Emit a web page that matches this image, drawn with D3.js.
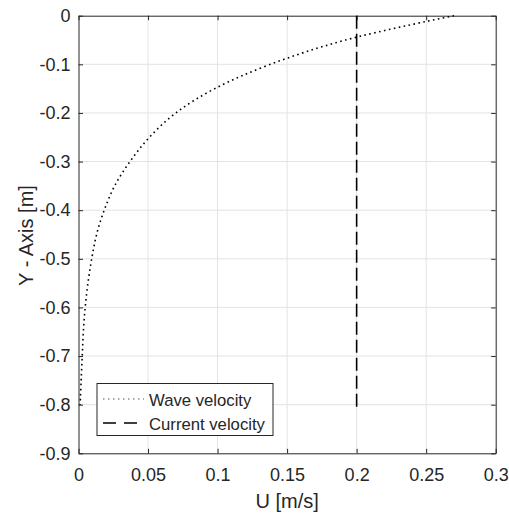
<!DOCTYPE html>
<html>
<head>
<meta charset="utf-8">
<script src="https://cdn.jsdelivr.net/npm/d3@7"></script>
<style>
  body { margin: 0; background: #fff; }
  svg text { font-family: "Liberation Sans", Arial, sans-serif; fill: #262626; }
</style>
</head>
<body>
<div class="canvas"></div>
<script>
// depth below surface [m] and wave velocity [m/s]
const depth = [0, -0.05, -0.1, -0.15, -0.2, -0.25, -0.3, -0.35, -0.4, -0.45, -0.5, -0.55, -0.6, -0.65, -0.7, -0.75, -0.8];
const waveU = [0.270, 0.192, 0.138, 0.098, 0.070, 0.051, 0.037, 0.026, 0.0185, 0.013, 0.0095, 0.0068, 0.0048, 0.0035, 0.0027, 0.0019, 0.0012];

// current velocity is constant over the depth
const currentDepth = [0, -0.81];
const currentU = [0.2, 0.2];

const xTicks = [0, 0.05, 0.1, 0.15, 0.2, 0.25, 0.3];
const xTickLabels = ['0', '0.05', '0.1', '0.15', '0.2', '0.25', '0.3'];
const yTicks = [0, -0.1, -0.2, -0.3, -0.4, -0.5, -0.6, -0.7, -0.8, -0.9];
const yTickLabels = ['0', '-0.1', '-0.2', '-0.3', '-0.4', '-0.5', '-0.6', '-0.7', '-0.8', '-0.9'];

const seriesNames = ['Wave velocity', 'Current velocity'];

const dims = {width: 509, height: 517};
const plot = {left: 78.5, right: 495.7, top: 15.7, bottom: 453.3};
const axisColor = '#262626';

const svg = d3.select('.canvas')
  .append('svg')
  .attr('width', dims.width)
  .attr('height', dims.height);

const x = d3.scaleLinear().domain([0, 0.3]).range([plot.left, plot.right]);
const y = d3.scaleLinear().domain([-0.9, 0]).range([plot.bottom, plot.top]);

// grid
svg.append('g').selectAll('line')
  .data(xTicks.slice(1, -1))
  .enter().append('line')
  .attr('x1', d => x(d)).attr('x2', d => x(d))
  .attr('y1', plot.top).attr('y2', plot.bottom)
  .attr('stroke', '#e3e3e3').attr('stroke-width', 1);

svg.append('g').selectAll('line')
  .data(yTicks.slice(1, -1))
  .enter().append('line')
  .attr('x1', plot.left).attr('x2', plot.right)
  .attr('y1', d => y(d)).attr('y2', d => y(d))
  .attr('stroke', '#e3e3e3').attr('stroke-width', 1);

// axes (ticks inward, box all round)
const tickLen = 4.5;
const styleAxis = g => {
  g.select('.domain').attr('stroke', axisColor).attr('stroke-width', 1);
  g.selectAll('.tick line').attr('stroke', axisColor);
  g.selectAll('.tick text').attr('fill', axisColor).attr('font-size', 18);
};

svg.append('g')
  .attr('transform', `translate(0, ${plot.bottom})`)
  .call(d3.axisBottom(x).tickValues(xTicks).tickFormat((d, i) => xTickLabels[i])
    .tickSizeInner(-tickLen).tickSizeOuter(0).tickPadding(15))
  .call(styleAxis);

svg.append('g')
  .attr('transform', `translate(0, ${plot.top})`)
  .call(d3.axisTop(x).tickValues(xTicks).tickFormat('')
    .tickSizeInner(-tickLen).tickSizeOuter(0))
  .call(styleAxis);

svg.append('g')
  .attr('transform', `translate(${plot.left}, 0)`)
  .call(d3.axisLeft(y).tickValues(yTicks).tickFormat((d, i) => yTickLabels[i])
    .tickSizeInner(-tickLen).tickSizeOuter(0).tickPadding(8))
  .call(styleAxis);

svg.append('g')
  .attr('transform', `translate(${plot.right}, 0)`)
  .call(d3.axisRight(y).tickValues(yTicks).tickFormat('')
    .tickSizeInner(-tickLen).tickSizeOuter(0))
  .call(styleAxis);

svg.selectAll('.domain').attr('fill', 'none');

// axis labels
svg.append('text')
  .attr('x', (plot.left + plot.right) / 2)
  .attr('y', 508)
  .attr('text-anchor', 'middle')
  .attr('font-size', 20)
  .text('U [m/s]');

svg.append('text')
  .attr('transform', `translate(32.5, ${(plot.top + plot.bottom) / 2 + 1}) rotate(-90)`)
  .attr('text-anchor', 'middle')
  .attr('font-size', 20)
  .text('Y - Axis [m]');

// lines
const line = d3.line()
  .x(d => x(d[0]))
  .y(d => y(d[1]))
  .curve(d3.curveCatmullRom);

svg.append('path')
  .datum(waveU.map((u, i) => [u, depth[i]]))
  .attr('fill', 'none')
  .attr('stroke', '#000')
  .attr('stroke-width', 1.6)
  .attr('stroke-dasharray', '1.6,3.4')
  .attr('d', line);

svg.append('path')
  .datum(currentU.map((u, i) => [u, currentDepth[i]]))
  .attr('fill', 'none')
  .attr('stroke', '#000')
  .attr('stroke-width', 1.6)
  .attr('stroke-dasharray', '13,5')
  .attr('d', d3.line().x(d => x(d[0])).y(d => y(d[1])));

// legend
const legend = svg.append('g').attr('transform', 'translate(97, 383.5)');
legend.append('rect')
  .attr('width', 176).attr('height', 52)
  .attr('fill', '#fff').attr('stroke', axisColor).attr('stroke-width', 1);

const dashes = ['1.5,3.5', '13,8'];
seriesNames.forEach((name, i) => {
  const cy = 15.5 + i * 24;
  legend.append('line')
    .attr('x1', 6).attr('x2', 47)
    .attr('y1', cy).attr('y2', cy)
    .attr('stroke', i === 0 ? '#555' : '#000')
    .attr('stroke-width', i === 0 ? 1 : 1.3)
    .attr('stroke-dasharray', dashes[i]);
  legend.append('text')
    .attr('x', 52).attr('y', cy + 6.5)
    .attr('font-size', 16.7)
    .attr('fill', '#000')
    .text(name);
});
</script>
</body>
</html>
